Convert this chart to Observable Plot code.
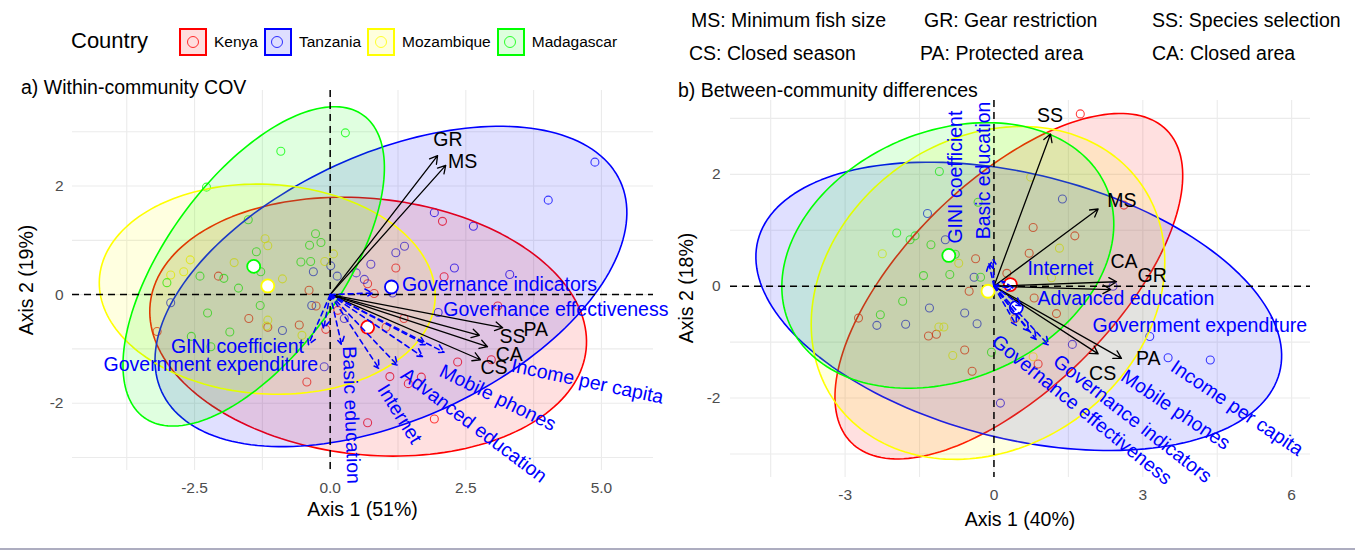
<!DOCTYPE html>
<html>
<head>
<meta charset="utf-8">
<script src="https://cdn.jsdelivr.net/npm/d3@7"></script>
<script src="https://cdn.jsdelivr.net/npm/@observablehq/plot@0.6"></script>
<style>
  html,body{margin:0;padding:0;background:#fff;}
  #root{position:relative;width:1355px;height:550px;overflow:hidden;font-family:"Liberation Sans",Arial,Helvetica,sans-serif;color:#000;}
  .t{position:absolute;white-space:nowrap;line-height:1;}
  .panel{position:absolute;top:75px;}
  .panel svg{overflow:visible;}
</style>
</head>
<body>
<div id="root"></div>
<script>
// ---------------- DATA ----------------
const countries = ["Kenya", "Tanzania", "Mozambique", "Madagascar"];
const countryColors = ["#ff0000", "#0000ff", "#ffff00", "#00ff00"];

const regulationKey = [
  ["MS: Minimum fish size", "GR: Gear restriction", "SS: Species selection"],
  ["CS: Closed season", "PA: Protected area", "CA: Closed area"]
];

// Panel a: within-community COV (site scores)
const kenyaA = [[-2.06,0.34],[-0.39,0.08],[-1.50,-0.44],[-1.15,-0.60],[-0.57,-0.56],[-3.19,-0.68],[-0.08,-0.64],[-0.43,-1.61],[-0.26,-0.21],[2.07,1.35],[1.21,0.49],[2.10,0.33],[0.69,0.20],[0.81,0.02],[3.09,-0.21],[1.36,-0.44],[1.03,-0.60],[2.35,-1.24],[2.97,-1.20],[1.10,-1.51],[1.44,-1.64],[1.68,-1.52],[0.69,-2.36],[1.92,-2.29],[0.14,-0.29]];
const tanzaniaA = [[-2.94,-0.15],[-0.31,0.42],[0.01,0.53],[-0.34,-0.20],[-0.88,-0.66],[-0.11,-1.33],[4.88,2.44],[4.02,1.74],[1.92,1.51],[2.64,1.26],[1.37,0.89],[1.21,0.77],[2.29,0.49],[3.31,0.37],[0.75,0.56],[0.48,0.40],[0.13,0.34],[0.63,0.28],[1.15,0.03],[1.99,-0.33],[0.26,-0.44]];
const mozambiqueA = [[-1.20,1.03],[-1.15,0.90],[-1.77,0.59],[-2.58,0.64],[-2.70,0.42],[-2.94,0.36],[-0.88,0.29],[-0.10,0.61],[0.06,0.75],[-1.15,-0.47],[-0.52,-0.75],[-1.17,-0.58]];
const madagascarA = [[-0.91,2.64],[-2.28,1.98],[-1.51,1.38],[-0.27,1.12],[-0.17,0.96],[-0.38,0.91],[-1.36,0.79],[-0.54,0.60],[-0.36,0.61],[-1.28,0.42],[-2.40,0.34],[-1.96,0.30],[-3.01,0.22],[-1.69,0.12],[-1.29,-0.20],[-2.26,-0.34],[-1.85,-0.69],[-2.56,-0.77],[-2.20,-0.96],[0.28,2.98]];
const centroidA = [["Kenya",0.69,-0.60],["Tanzania",1.13,0.14],["Mozambique",-1.15,0.16],["Madagascar",-1.41,0.52]];
// ellipse: country, centre x, centre y, semi-axis a, semi-axis b, angle (deg)
const ellipseA = [["Kenya",0.70,-0.59,4.04,2.36,-6],["Tanzania",1.12,0.15,4.65,2.45,24.6],["Mozambique",-1.16,0.10,3.10,1.93,-3.5],["Madagascar",-1.41,0.52,3.44,1.62,54]];
// regulation loadings: code, x, y, label x, label y
const regulationA = [["GR",1.98,2.56,2.17,2.85],["MS",2.13,2.38,2.44,2.44],["PA",3.18,-0.61,3.79,-0.64],["SS",2.75,-0.75,3.36,-0.77],["CA",2.90,-0.96,3.30,-1.10],["CS",2.77,-1.20,3.02,-1.34]];
// covariate vectors: name, x, y, label x, label y, label angle
const covariateA = [["Governance indicators",0.78,0.03,3.12,0.18,0],["Governance effectiveness",1.76,-0.92,4.16,-0.28,0],["Income per capita",2.10,-1.06,4.74,-1.60,12],["Mobile phones",1.70,-1.14,3.09,-1.90,26],["Advanced education",1.24,-1.30,2.65,-2.41,37],["Internet",0.90,-1.36,1.28,-2.20,58],["Basic education",0.21,-0.92,0.39,-2.22,88],["GINI coefficient",-0.40,-0.92,-1.71,-0.965,0],["Government expenditure",-0.12,-0.62,-2.20,-1.30,0]];

// Panel b: between-community differences
const kenyaB = [[-2.73,-0.57],[-1.32,-0.89],[-1.16,-0.86],[-0.59,-1.14],[-0.44,-1.52],[-0.37,0.49],[-0.50,-0.09],[1.74,3.08],[0.79,1.05],[1.63,0.90],[0.71,0.59],[0.26,0.23],[0.81,-0.21],[1.26,-0.49],[0.42,-0.58],[0.89,-1.39],[2.62,1.45]];
const tanzaniaB = [[-1.34,1.30],[-0.98,0.83],[-0.40,0.16],[-2.36,-0.70],[-1.78,-0.68],[-1.30,-0.39],[-0.59,-0.48],[-0.34,-0.67],[0.13,-2.09],[1.38,1.56],[2.40,0.00],[3.14,-0.90],[3.51,-1.28],[4.36,-1.32],[1.58,-1.04]];
const mozambiqueB = [[-2.25,0.58],[-0.71,0.41],[-1.11,-0.73],[-1.01,-0.73],[-0.83,-1.24],[0.74,1.95],[1.32,0.68],[1.16,0.15],[0.79,-1.26]];
const madagascarB = [[-1.10,2.05],[-1.96,0.95],[-1.69,0.83],[-1.59,0.90],[-1.27,0.74],[-0.78,0.57],[-1.42,0.19],[-0.89,0.21],[-1.84,-0.27],[-2.29,-0.51],[-0.05,-1.18],[-0.32,1.50],[-0.27,0.16]];
const centroidB = [["Kenya",0.33,0.03],["Tanzania",0.45,-0.38],["Mozambique",-0.12,-0.09],["Madagascar",-0.91,0.55]];
const ellipseB = [["Kenya",0.30,0.00,4.24,1.96,39.4],["Tanzania",0.50,-0.36,5.39,2.38,-11.8],["Mozambique",-0.12,-0.12,3.68,2.83,23],["Madagascar",-0.93,0.55,3.43,2.25,17]];
const regulationB = [["SS",1.14,2.72,1.13,3.05],["MS",2.10,1.38,2.58,1.52],["CA",2.47,0.08,2.62,0.43],["GR",2.35,-0.06,3.19,0.19],["PA",2.57,-1.29,3.11,-1.29],["CS",2.10,-1.21,2.19,-1.56]];
const covariateB = [["GINI coefficient",-0.10,0.40,-0.76,1.95,-90],["Basic education",-0.02,0.48,-0.21,2.07,-90],["Internet",0.22,0.08,1.34,0.31,0],["Advanced education",0.38,-0.03,2.66,-0.23,0],["Government expenditure",0.55,-0.35,4.15,-0.70,0],["Income per capita",1.10,-1.05,4.90,-2.18,34],["Mobile phones",0.85,-0.95,3.66,-2.21,34],["Governance indicators",0.70,-0.80,2.79,-2.37,38],["Governance effectiveness",0.45,-0.70,1.77,-2.21,39]];

// axes
const ticksAx = [-2.5, 0, 2.5, 5];
const ticksAy = [-2, 0, 2];
const gridAx = [-3.75, -2.5, -1.25, 0, 1.25, 2.5, 3.75, 5];
const gridAy = [-3, -2, -1, 0, 1, 2, 3];
const ticksBx = [-3, 0, 3, 6];
const ticksBy = [-2, 0, 2];
const gridBx = [-4.5, -3, -1.5, 0, 1.5, 3, 4.5, 6];
const gridBy = [-3, -2, -1, 0, 1, 2, 3];

// ---------------- BUILD ----------------
const colorOf = c => countryColors[countries.indexOf(c)];
const rowsOf = (arr, country) => arr.map(([x, y]) => ({country, x, y}));
const ellipsePath = ([country, cx, cy, a, b, ang]) => {
  const th = ang * Math.PI / 180;
  return d3.range(0, 361, 2).map(t => {
    const r = t * Math.PI / 180;
    return {country,
      x: cx + a * Math.cos(r) * Math.cos(th) - b * Math.sin(r) * Math.sin(th),
      y: cy + a * Math.cos(r) * Math.sin(th) + b * Math.sin(r) * Math.cos(th)};
  });
};
const regRows = arr => arr.map(([code, x, y, lx, ly]) => ({code, x, y, lx, ly}));
const covRows = arr => arr.map(([name, x, y, lx, ly, rot]) => ({name, x, y, lx, ly, rot}));
const cenRows = arr => arr.map(([country, x, y]) => ({country, x, y}));

const FONT = '"Liberation Sans", Arial, Helvetica, sans-serif';

function panel(cfg) {
  const marks = [
    Plot.gridX(cfg.gridX, {stroke: "#ebebeb", strokeOpacity: 1, strokeWidth: 1.1}),
    Plot.gridY(cfg.gridY, {stroke: "#ebebeb", strokeOpacity: 1, strokeWidth: 1.1}),
    Plot.dot(cfg.points, {x: "x", y: "y", r: 4, stroke: "country", strokeWidth: 1.1, strokeOpacity: 0.75, fill: "none"}),
    ...cfg.ellipses.map(e => Plot.line(ellipsePath(e), {x: "x", y: "y", fill: colorOf(e[0]), fillOpacity: 0.12, stroke: colorOf(e[0]), strokeWidth: 1.6})),
    Plot.ruleY([0], {stroke: "#000", strokeDasharray: "7,5", strokeWidth: 1.5}),
    Plot.ruleX([0], {stroke: "#000", strokeDasharray: "7,5", strokeWidth: 1.5}),
    Plot.dot(cfg.centroids, {x: "x", y: "y", r: 6.5, fill: "white", stroke: "country", strokeWidth: 1.8}),
    Plot.arrow(cfg.regs, {x1: () => 0, y1: () => 0, x2: "x", y2: "y", stroke: "#000", strokeWidth: 1.3, headLength: 10}),
    Plot.arrow(cfg.covs, {x1: () => 0, y1: () => 0, x2: "x", y2: "y", stroke: "#0000ff", strokeWidth: 1.6, strokeDasharray: "5,4", headLength: 8}),
    Plot.text(cfg.regs, {x: "lx", y: "ly", text: "code", fill: "#000", fontSize: 19.5, fontFamily: FONT}),
    Plot.text(cfg.covs, {x: "lx", y: "ly", text: "name", rotate: "rot", fill: "#0000ff", fontSize: 19.5, fontFamily: FONT}),
    Plot.axisX(cfg.ticksX, {tickSize: 0, tickPadding: cfg.padX, tickFormat: cfg.fmtX, label: null, fontSize: 15.5}),
    Plot.axisY(cfg.ticksY, {tickSize: 0, tickPadding: cfg.padY, tickFormat: d => String(d), label: null, fontSize: 15.5})
  ];
  return Plot.plot({
    width: cfg.width, height: cfg.height,
    marginLeft: cfg.ml, marginRight: cfg.mr, marginTop: cfg.mt, marginBottom: cfg.mb,
    x: {domain: cfg.dx},
    y: {domain: cfg.dy},
    color: {domain: countries, range: countryColors},
    style: {fontFamily: FONT, fontSize: "15.5px", color: "#4d4d4d", background: "none", overflow: "visible"},
    marks
  });
}

const root = document.getElementById("root");
function addText(txt, left, top, size, extra = {}) {
  const d = document.createElement("div");
  d.className = "t";
  d.textContent = txt;
  d.style.left = left + "px";
  d.style.top = top + "px";
  d.style.fontSize = size + "px";
  Object.assign(d.style, extra);
  root.appendChild(d);
  return d;
}

// panel a
const pa = panel({
  width: 675, height: 475, ml: 72, mr: 22, mt: 15, mb: 80,
  dx: [-4.75, 5.96], dy: [-3.24, 3.76],
  gridX: gridAx, gridY: gridAy, ticksX: ticksAx, ticksY: ticksAy,
  fmtX: d => d.toFixed(1), padX: 11, padY: 9,
  points: [...rowsOf(kenyaA, "Kenya"), ...rowsOf(tanzaniaA, "Tanzania"), ...rowsOf(mozambiqueA, "Mozambique"), ...rowsOf(madagascarA, "Madagascar")],
  ellipses: ellipseA, centroids: cenRows(centroidA), regs: regRows(regulationA), covs: covRows(covariateA)
});
const wa = document.createElement("div"); wa.className = "panel"; wa.style.left = "0px"; wa.appendChild(pa); root.appendChild(wa);

// panel b
const pb = panel({
  width: 685, height: 475, ml: 60, mr: 45, mt: 25, mb: 73,
  dx: [-5.31, 6.38], dy: [-3.42, 3.32],
  gridX: gridBx, gridY: gridBy, ticksX: ticksBx, ticksY: ticksBy,
  fmtX: d => String(d), padX: 11, padY: 10,
  points: [...rowsOf(kenyaB, "Kenya"), ...rowsOf(tanzaniaB, "Tanzania"), ...rowsOf(mozambiqueB, "Mozambique"), ...rowsOf(madagascarB, "Madagascar")],
  ellipses: ellipseB, centroids: cenRows(centroidB), regs: regRows(regulationB), covs: covRows(covariateB)
});
const wb = document.createElement("div"); wb.className = "panel"; wb.style.left = "670px"; wb.appendChild(pb); root.appendChild(wb);

// titles
addText("a) Within-community COV", 21, 77.5, 19.5);
addText("b) Between-community differences", 678, 80.5, 19.5);
addText("Axis 1 (51%)", 362.5, 500, 19.5, {transform: "translateX(-50%)"});
addText("Axis 1 (40%)", 1020, 510, 19.5, {transform: "translateX(-50%)"});
addText("Axis 2 (19%)", 27, 280, 19.5, {transform: "translate(-50%,-50%) rotate(-90deg)"});
addText("Axis 2 (18%)", 687, 288, 19.5, {transform: "translate(-50%,-50%) rotate(-90deg)"});

// legend
addText("Country", 71, 30, 22);
const leg = document.createElement("div");
leg.className = "t";
Object.assign(leg.style, {left: "179px", top: "28px", display: "flex", alignItems: "center", height: "28px"});
countries.forEach((c, i) => {
  const col = countryColors[i];
  const rgb = d3.rgb(col);
  const box = document.createElement("div");
  Object.assign(box.style, {width: "24px", height: "24px", border: `2px solid ${col}`, background: `rgba(${rgb.r},${rgb.g},${rgb.b},0.13)`, position: "relative", boxSizing: "content-box"});
  const circ = document.createElement("div");
  Object.assign(circ.style, {position: "absolute", left: "5.5px", top: "5.5px", width: "10px", height: "10px", borderRadius: "50%", border: `1.5px solid rgba(${rgb.r},${rgb.g},${rgb.b},0.8)`});
  box.appendChild(circ);
  const lab = document.createElement("div");
  lab.textContent = c;
  Object.assign(lab.style, {fontSize: "15.5px", marginLeft: "7px", marginRight: "6px", lineHeight: "1"});
  leg.appendChild(box); leg.appendChild(lab);
});
root.appendChild(leg);

// regulation key
const keyX = [[691, 924, 1152], [689, 920, 1152]];
const keyTop = [11, 43.5];
regulationKey.forEach((row, r) => row.forEach((txt, j) => addText(txt, keyX[r][j], keyTop[r], 19.5)));

// bottom rule
const line = document.createElement("div");
Object.assign(line.style, {position: "absolute", left: "0px", top: "548px", width: "1355px", height: "2px", background: "#adadc0"});
root.appendChild(line);
</script>
</body>
</html>
